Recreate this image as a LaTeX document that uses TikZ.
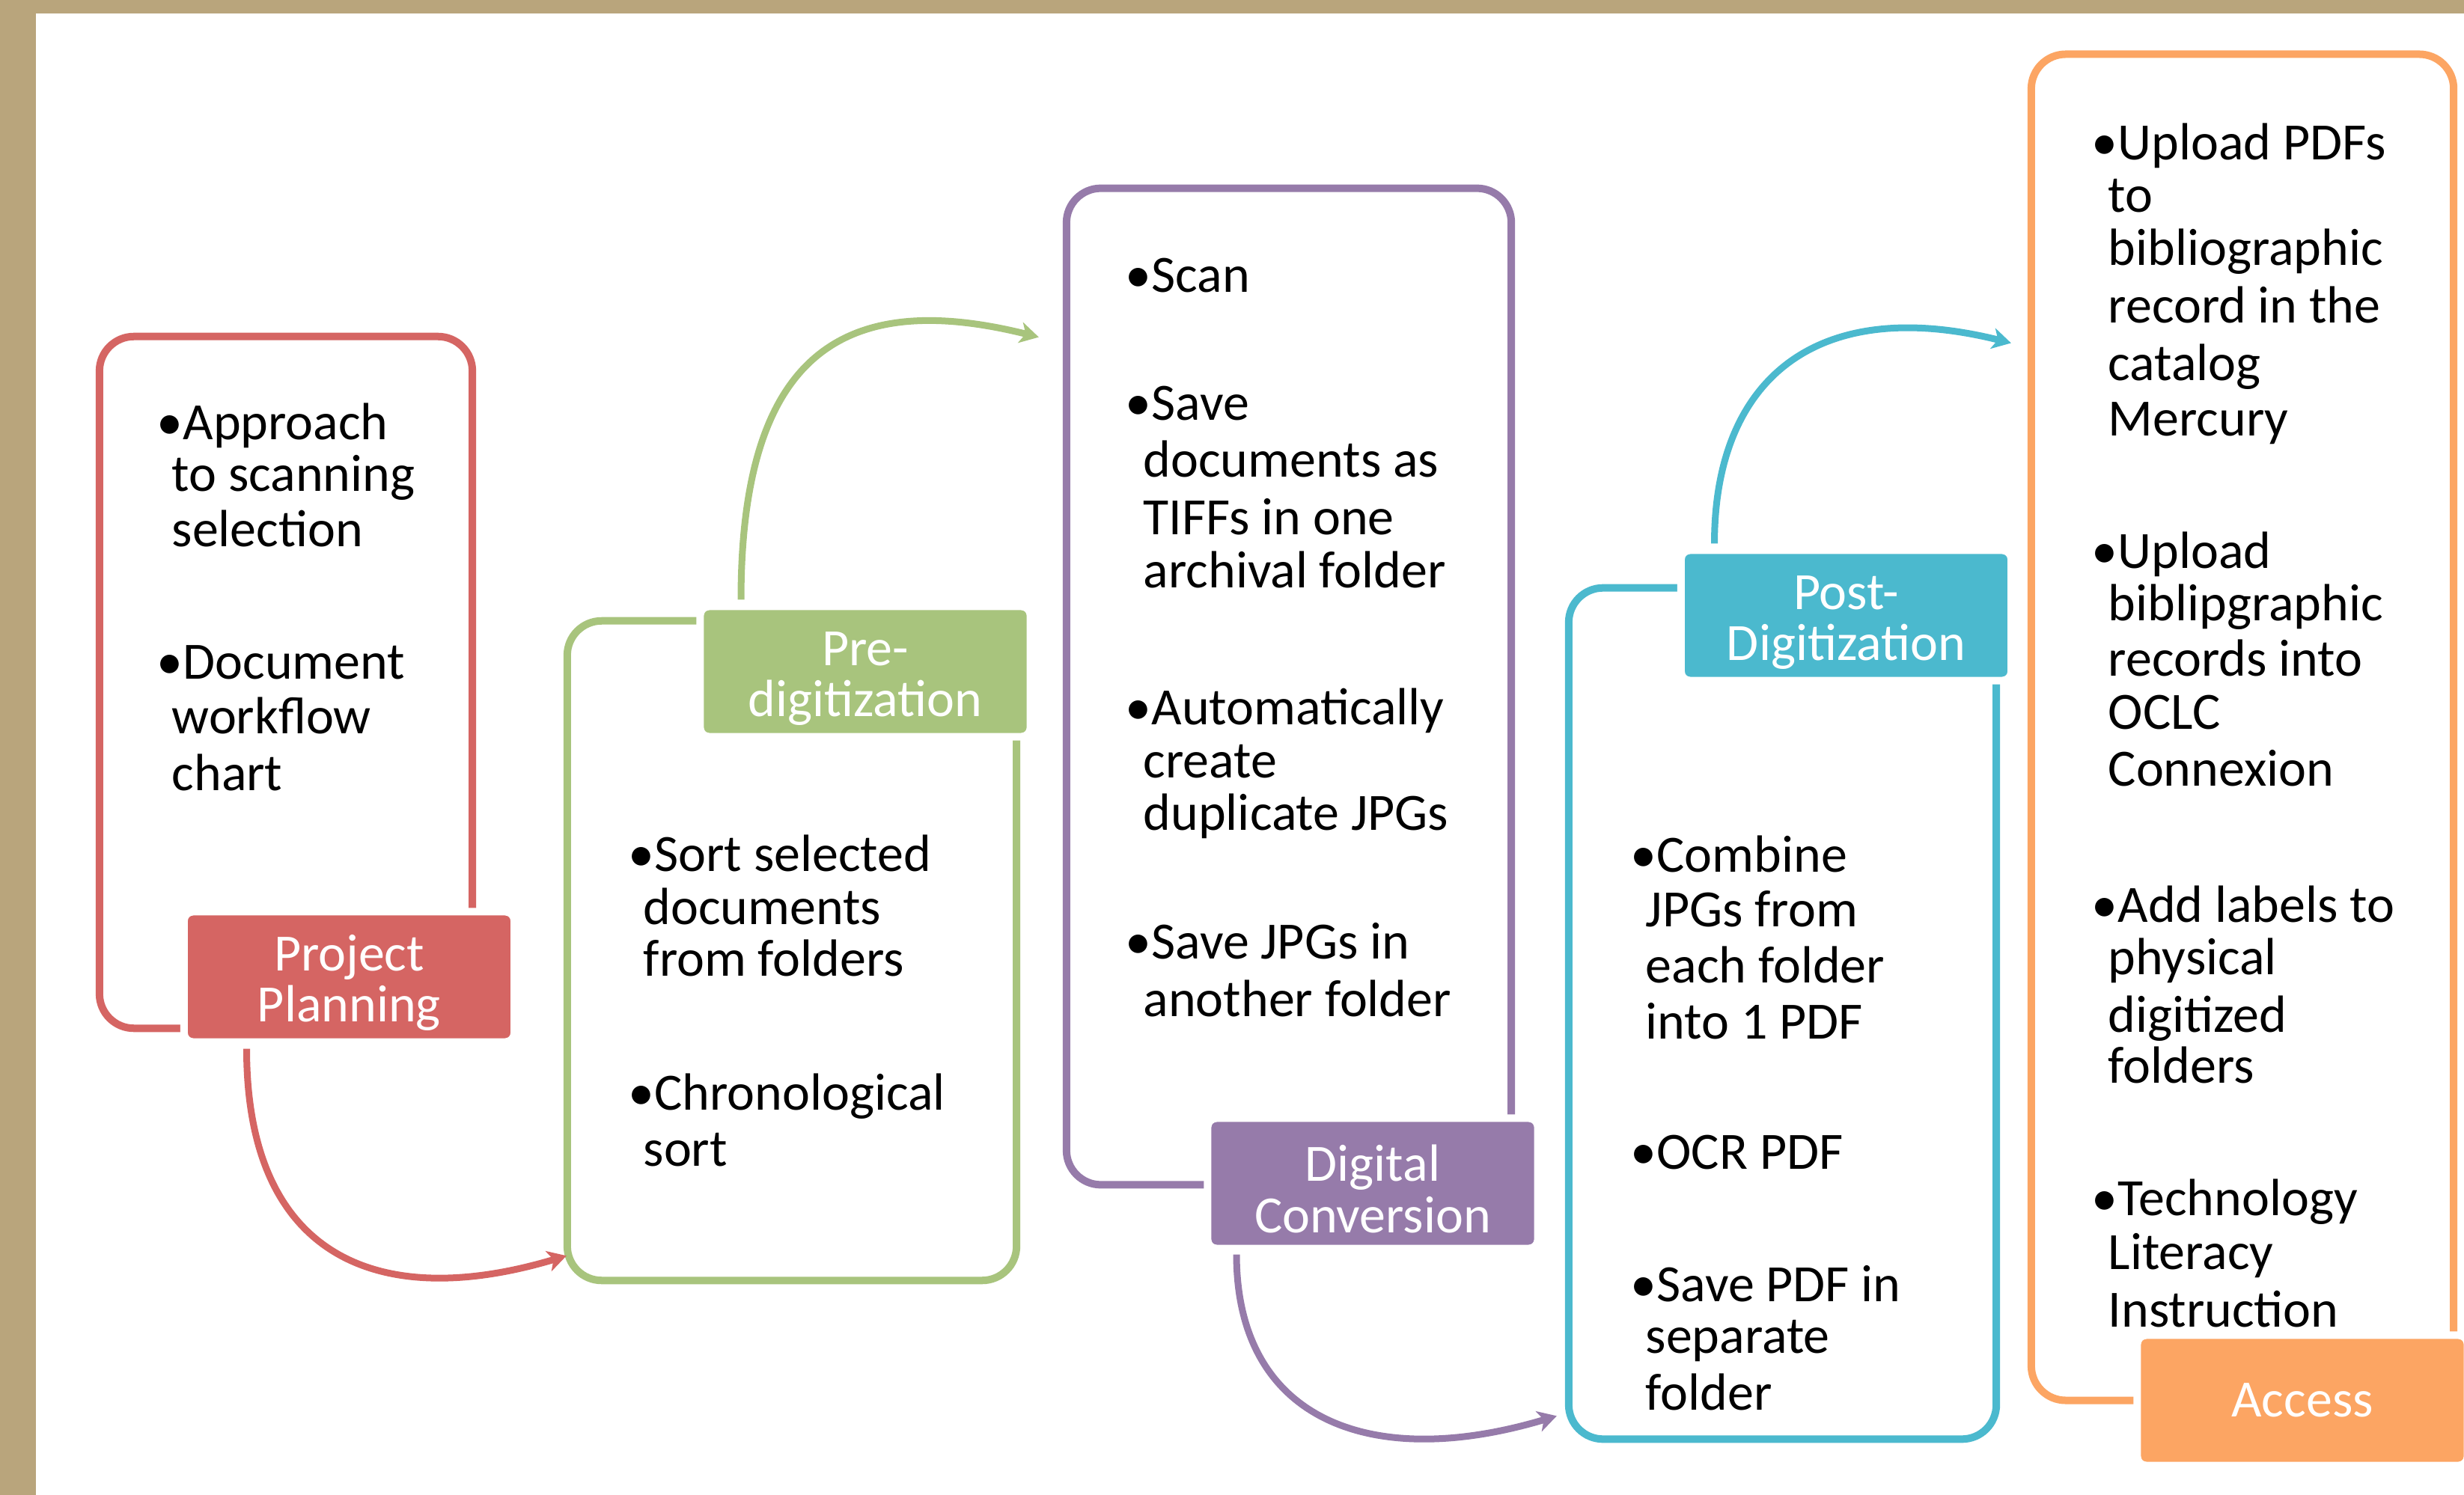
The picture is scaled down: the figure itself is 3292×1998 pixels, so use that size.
\documentclass[tikz,border=0pt]{standalone}
\usepackage{fontspec}
\setmainfont{Carlito}
\usetikzlibrary{arrows.meta,calc}

\definecolor{bgtan}{HTML}{B9A57C}
\definecolor{cred}{HTML}{D56563}
\definecolor{cgreen}{HTML}{A8C47D}
\definecolor{cpurple}{HTML}{967BAA}
\definecolor{ccyan}{HTML}{4BB9CE}
\definecolor{corange}{HTML}{FCA563}

\newcommand\bodysize{\fontsize{19.9pt}{20.8pt}\selectfont}
\newcommand\tline[4]{\node[txt] (#1) at (#2,#3) {#4};}
% taller first line, so a two-line title sits a little lower in its box
\newcommand\topstrut{\rule{0pt}{0.64cm}}

\begin{document}
\begin{tikzpicture}[x=0.01cm,y=-0.01cm,
  frame/.style={draw=#1, line width=0.1cm, rounded corners=0.46cm, rectangle,
    inner sep=0pt, outer sep=0pt},
  tag/.style={fill=#1, draw=white, line width=0.1cm, rounded corners=0.12cm,
    rectangle, inner sep=0pt, outer sep=0pt, text=white, align=center,
    font=\fontsize{19.9pt}{19.6pt}\selectfont,
    minimum width=4.41cm, minimum height=1.74cm},
  txt/.style={anchor=base west, inner sep=0pt, font=\bodysize, text=black},
  flow/.style={draw=#1, line width=0.09cm,
    -{Stealth[length=0.25cm,width=0.28cm,inset=0.07cm]}},
]
\useasboundingbox (0,0) rectangle (3292,1998);

% slide background with its tan edge
\fill[bgtan] (0,0) rectangle (3292,1998);
\fill[white] (48,18) rectangle (3292,1998);

% stage frames
\node[frame=cred,    minimum width=4.98cm, minimum height=9.24cm]  (rbox) at (382,912) {};
\node[frame=cgreen,  minimum width=6.00cm, minimum height=8.81cm]  (gbox) at (1058,1270.5) {};
\node[frame=cpurple, minimum width=5.94cm, minimum height=13.31cm] (vbox) at (1722,917.5) {};
\node[frame=ccyan,   minimum width=5.71cm, minimum height=11.37cm] (cbox) at (2381.5,1354.5) {};
\node[frame=corange, minimum width=5.64cm, minimum height=17.98cm] (obox) at (2996,972) {};

% stage titles
\node[tag=cred]    (pp)  at (466.5,1305.5) {\topstrut Project\\Planning};
\node[tag=cgreen]  (pd)  at (1156,897.5)   {\topstrut Pre-\\digitization};
\node[tag=cpurple] (dc)  at (1834,1581.5)  {\topstrut Digital\\Conversion};
\node[tag=ccyan]   (pst) at (2466.5,822.5) {\topstrut Post-\\Digitization};
\node[tag=corange] (acc) at (3076,1871.5)  {Access};

% arrow ends
\coordinate (a1s) at ($(pp.south)+(-137,9)$);
\coordinate (a1e) at ($(gbox.south west)+(-1,-33)$);
\coordinate (a2s) at ($(pd.north)+(-166,-9)$);
\coordinate (a2e) at ($(vbox.north west)+(-37,199)$);
\coordinate (a3s) at ($(dc.south)+(-182,8)$);
\coordinate (a3e) at ($(cbox.south west)+(-16,-31)$);
\coordinate (a4s) at ($(pst.north)+(-176,-9)$);
\coordinate (a4e) at ($(obox.north west)+(-27,386)$);

% curved arrows between stages
\draw[flow=cred]    (a1s) .. controls +(0,280)  and +(-250,75) .. (a1e);
\draw[flow=cgreen]  (a2s) .. controls +(0,-330) and +(-260,-65) .. (a2e);
\draw[flow=cpurple] (a3s) .. controls +(0,220)  and +(-250,75) .. (a3e);
\draw[flow=ccyan]   (a4s) .. controls +(0,-220) and +(-260,-65) .. (a4e);

% Project Planning
\tline{r1}{209}{588}{•Approach}
\tline{r2}{229}{657}{to scanning}
\tline{r3}{229}{731}{selection}
\tline{r4}{209}{907}{•Document}
\tline{r5}{229}{980}{workflow}
\tline{r6}{229}{1056}{chart}

% Pre-digitization
\tline{g1}{839}{1164}{•Sort selected}
\tline{g2}{859}{1235}{documents}
\tline{g3}{859}{1304}{from folders}
\tline{g4}{839}{1483}{•Chronological}
\tline{g5}{859}{1558}{sort}

% Digital Conversion
\tline{v1}{1503}{391}{•Scan}
\tline{v2}{1503}{562}{•Save}
\tline{v3}{1527}{638}{documents as}
\tline{v4}{1527}{715}{TIFFs in one}
\tline{v5}{1527}{785}{archival folder}
\tline{v6}{1503}{968}{•Automatically}
\tline{v7}{1527}{1039}{create}
\tline{v8}{1527}{1109}{duplicate JPGs}
\tline{v9}{1503}{1281}{•Save JPGs in}
\tline{v10}{1527}{1358}{another folder}

% Post-Digitization
\tline{c1}{2178}{1165}{•Combine}
\tline{c2}{2198}{1238}{JPGs from}
\tline{c3}{2198}{1313}{each folder}
\tline{c4}{2198}{1388}{into 1 PDF}
\tline{c5}{2178}{1562}{•OCR PDF}
\tline{c6}{2178}{1739}{•Save PDF in}
\tline{c7}{2198}{1808}{separate}
\tline{c8}{2198}{1884}{folder}

% Access
\tline{o1}{2794}{214}{•Upload PDFs}
\tline{o2}{2816}{284}{to}
\tline{o3}{2816}{355}{bibliographic}
\tline{o4}{2816}{432}{record in the}
\tline{o5}{2816}{509}{catalog}
\tline{o6}{2816}{583}{Mercury}
\tline{o7}{2794}{760}{•Upload}
\tline{o8}{2816}{829}{biblipgraphic}
\tline{o9}{2816}{903}{records into}
\tline{o10}{2816}{974}{OCLC}
\tline{o11}{2816}{1050}{Connexion}
\tline{o12}{2794}{1232}{•Add labels to}
\tline{o13}{2816}{1302}{physical}
\tline{o14}{2816}{1379}{digitized}
\tline{o15}{2816}{1447}{folders}
\tline{o16}{2794}{1624}{•Technology}
\tline{o17}{2816}{1696}{Literacy}
\tline{o18}{2816}{1773}{Instruction}
\end{tikzpicture}
\end{document}
